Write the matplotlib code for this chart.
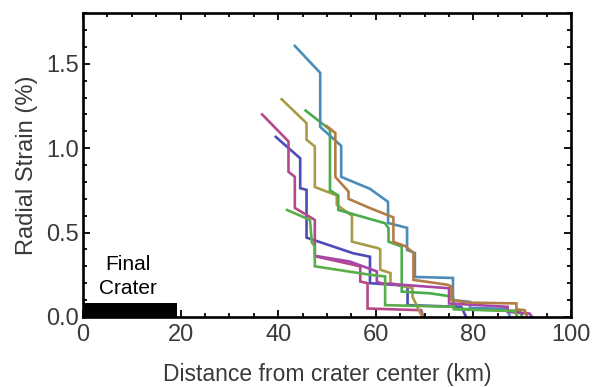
import matplotlib
matplotlib.use("Agg")
import matplotlib.pyplot as plt
from matplotlib.ticker import MultipleLocator

plt.rcParams['font.family'] = ['Liberation Sans', 'DejaVu Sans']

# strain profiles (distance km, radial strain %)
blue_x = [39.5, 44.5, 44.5, 45.8, 45.8, 55.4, 58.8, 58.8, 63.9, 66.5, 66.5, 77.5, 78.5]
blue_y = [1.067, 0.94, 0.763, 0.753, 0.47, 0.377, 0.357, 0.20, 0.19, 0.18, 0.07, 0.06, 0.0]

magenta_x = [36.7, 42.1, 42.1, 43.4, 43.4, 47.5, 47.5, 56.8, 56.8, 58.3, 58.3, 69.3, 69.7]
magenta_y = [1.20, 1.04, 0.86, 0.83, 0.646, 0.575, 0.36, 0.30, 0.21, 0.20, 0.05, 0.04, 0.0]

olive_x = [40.7, 45.8, 45.8, 47.5, 47.5, 52.0, 52.0, 55.1, 55.1, 60.5, 60.9, 60.9, 63.0, 63.0, 67.5, 67.5, 69.5]
olive_y = [1.29, 1.148, 1.05, 1.01, 0.77, 0.72, 0.664, 0.60, 0.446, 0.407, 0.40, 0.28, 0.26, 0.20, 0.17, 0.12, 0.0]

green_x = [45.6, 50.6, 50.6, 52.3, 52.3, 61.9, 62.6, 62.6, 65.3, 65.3, 71.1, 75.8, 76.0, 89.5, 90.0]
green_y = [1.223, 1.11, 0.75, 0.72, 0.634, 0.555, 0.526, 0.446, 0.417, 0.15, 0.14, 0.12, 0.05, 0.035, 0.0]

teal_x = [43.4, 48.6, 48.6, 52.9, 52.9, 58.8, 62.5, 62.5, 66.4, 66.4, 68.0, 68.0, 75.8, 75.8, 79.3, 79.3, 86.9, 87.5]
teal_y = [1.606, 1.446, 1.126, 1.014, 0.83, 0.759, 0.682, 0.557, 0.528, 0.397, 0.379, 0.237, 0.231, 0.10, 0.089, 0.053, 0.047, 0.0]

purple_x = [48.0, 54.7, 60.2, 60.2, 61.0, 75.0, 75.0, 87.0, 87.0, 91.5, 92.0]
purple_y = [0.36, 0.328, 0.27, 0.21, 0.20, 0.17, 0.08, 0.06, 0.03, 0.02, 0.0]

brown_x = [50.0, 51.7, 51.7, 54.4, 54.4, 58.8, 63.6, 63.6, 66.0, 67.7, 67.7, 74.8, 75.5, 75.5, 79.0, 88.8, 88.8, 90.5, 91.0]
brown_y = [1.13, 1.09, 0.83, 0.743, 0.70, 0.645, 0.59, 0.445, 0.42, 0.38, 0.22, 0.19, 0.18, 0.10, 0.085, 0.08, 0.045, 0.04, 0.0]

green2_x = [41.8, 46.5, 46.9, 47.5, 47.5, 58.8, 61.9, 61.9, 76.0, 76.0, 88.5, 89.0]
green2_y = [0.634, 0.575, 0.44, 0.417, 0.30, 0.25, 0.24, 0.07, 0.06, 0.045, 0.035, 0.0]

crater_radius = 19.2
crater_bar = 0.08

series = [
    (blue_x, blue_y, '#4b4cb8'),
    (magenta_x, magenta_y, '#b6488a'),
    (olive_x, olive_y, '#a99a45'),
    (green_x, green_y, '#4bac4b'),
    (teal_x, teal_y, '#4a8db8'),
    (purple_x, purple_y, '#a845a8'),
    (brown_x, brown_y, '#b47c45'),
    (green2_x, green2_y, '#5aae4a'),
]

fig = plt.figure(figsize=(5.93, 3.87), dpi=100)
ax = fig.add_axes([0.14, 0.181, 0.823, 0.785])

for xs, ys, c in series:
    ax.plot(xs, ys, color=c, lw=1.9, solid_joinstyle='miter')

ax.fill_between([0, crater_radius], 0, crater_bar, color='black', lw=0, zorder=3)
ax.text(9.2, 0.24, 'Final\nCrater', ha='center', va='center', fontsize=15,
        color='black', linespacing=1.3)

ax.set_xlim(0, 100)
ax.set_ylim(0, 1.8)
ax.xaxis.set_major_locator(MultipleLocator(20))
ax.xaxis.set_minor_locator(MultipleLocator(5))
ax.yaxis.set_major_locator(MultipleLocator(0.5))
ax.yaxis.set_minor_locator(MultipleLocator(0.1))
ax.yaxis.set_major_formatter(matplotlib.ticker.FormatStrFormatter('%.1f'))

for s in ax.spines.values():
    s.set_linewidth(1.9)

ax.tick_params(which='both', direction='in', top=True, right=True,
               labelsize=17, labelcolor='#3a3a3a', width=1.3)
ax.tick_params(which='major', length=5)
ax.tick_params(which='minor', length=3)
ax.tick_params(axis='x', which='major', pad=5)
ax.tick_params(axis='y', which='major', pad=3)

ax.set_xlabel('Distance from crater center (km)', fontsize=16.5, color='#3a3a3a', labelpad=12)
ax.set_ylabel('Radial Strain (%)', fontsize=17, color='#3a3a3a', labelpad=6)

fig.savefig('out.png', dpi=100)
